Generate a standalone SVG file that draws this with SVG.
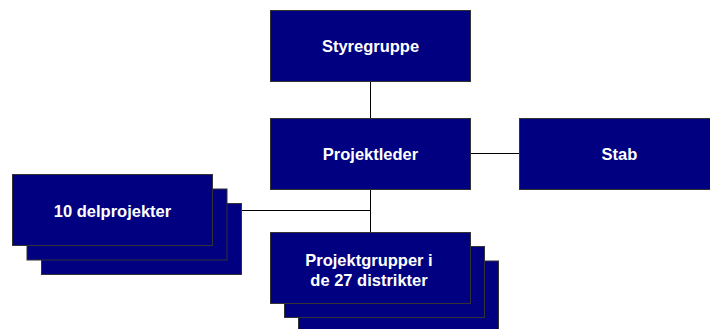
<svg xmlns="http://www.w3.org/2000/svg" width="710" height="329" viewBox="0 0 710 329">
  <style>
    .box { fill: #000080; stroke: #333333; stroke-width: 1; }
    .lbl { fill: #ffffff; font-family: "Liberation Sans", Arial, sans-serif; font-weight: bold; font-size: 16.5px; text-anchor: middle; }
    .wire { stroke: #000000; stroke-width: 1; fill: none; }
  </style>
  <rect width="710" height="329" fill="#ffffff"/>

  <!-- connectors -->
  <g id="connectors">
    <line class="wire" x1="370.5" y1="82" x2="370.5" y2="118"/>
    <line class="wire" x1="370.5" y1="189" x2="370.5" y2="232"/>
    <line class="wire" x1="470" y1="153.5" x2="519" y2="153.5"/>
    <line class="wire" x1="213" y1="210.5" x2="370.5" y2="210.5"/>
  </g>

  <g id="styregruppe">
    <rect class="box" x="270.5" y="10.5" width="200" height="71"/>
    <text class="lbl" x="370.5" y="52">Styregruppe</text>
  </g>

  <g id="projektleder">
    <rect class="box" x="270.5" y="118.5" width="200" height="71"/>
    <text class="lbl" x="370.5" y="160">Projektleder</text>
  </g>

  <g id="stab">
    <rect class="box" x="519.5" y="118.5" width="200" height="71"/>
    <text class="lbl" x="619.5" y="160">Stab</text>
  </g>

  <g id="delprojekter">
    <rect class="box" x="41.5" y="203.5" width="200" height="71"/>
    <rect class="box" x="27" y="189" width="200" height="71"/>
    <rect class="box" x="12.5" y="174.5" width="200" height="71"/>
    <text class="lbl" x="112.5" y="217">10 delprojekter</text>
  </g>

  <g id="projektgrupper">
    <rect class="box" x="298.5" y="261" width="200" height="71"/>
    <rect class="box" x="284.5" y="246.5" width="200" height="71"/>
    <rect class="box" x="270.5" y="232.5" width="200" height="71"/>
    <text class="lbl" x="369" y="266">Projektgrupper i</text>
    <text class="lbl" x="369" y="286">de 27 distrikter</text>
  </g>
</svg>
